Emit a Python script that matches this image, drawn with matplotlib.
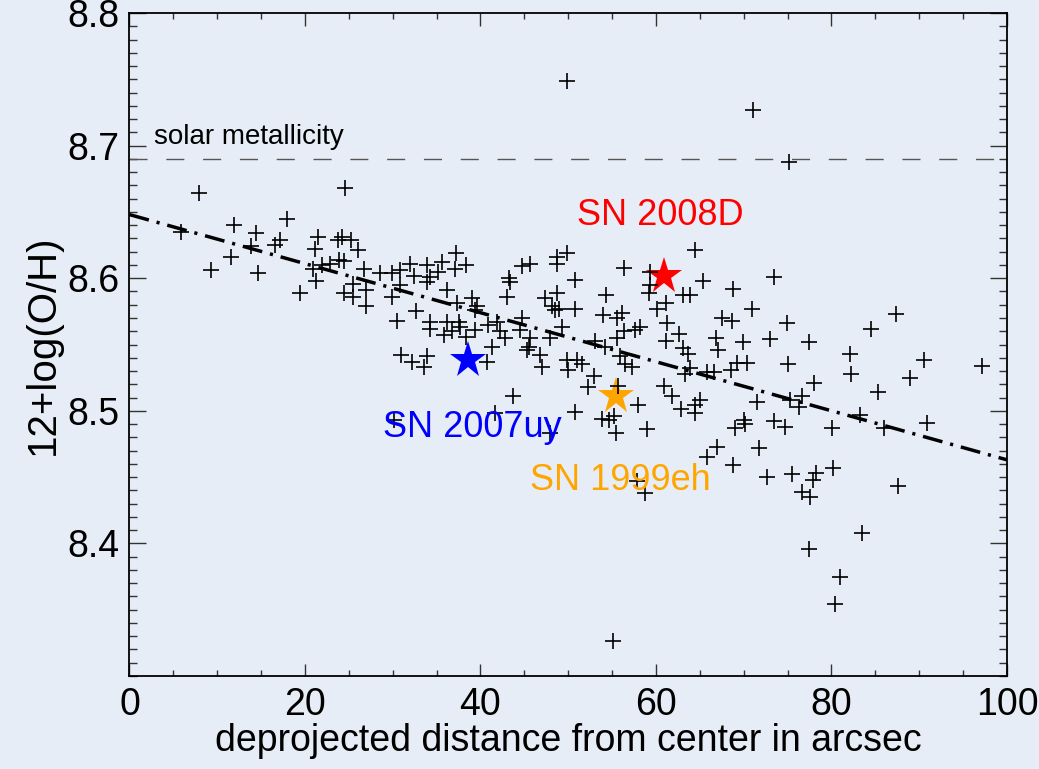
import numpy as np
import matplotlib
matplotlib.use('Agg')
import matplotlib.pyplot as plt

plt.rcParams['font.family'] = ['Liberation Sans', 'DejaVu Sans']

# HII region abundances (arcsec, 12+log(O/H))
x_pts = [
    7.9, 24.6, 5.9, 11.9, 14.4, 17.9, 13.9, 16.6, 17.2, 21.5, 21.1, 23.8, 24.2, 11.6,
    22.8, 23.9, 24.4,
    9.3, 14.6, 19.4, 21.3, 20.9, 21.9, 24.5,
    25.3, 26.1, 37.2, 48.7, 49.9,
    26.7, 25.5, 25.5, 27.0, 27.0, 28.6, 29.9, 30.8, 32.0, 32.4, 30.8, 29.9, 33.9, 34.3,
    33.9, 35.2, 35.6, 37.1, 38.4, 36.2, 32.7, 30.5, 34.3, 34.3, 36.2, 37.5, 37.3, 37.7,
    35.8, 36.7, 38.3, 39.0, 39.4, 39.6, 39.4, 41.3, 40.7, 40.9, 41.9, 42.2, 42.8, 43.0,
    43.2, 43.4, 44.7, 45.7, 44.7, 44.5, 45.7, 45.5, 45.3, 46.8, 47.0, 47.4, 48.7, 48.1,
    48.9, 48.5, 49.3, 47.9, 49.9, 50.0, 48.7, 31.0, 32.2, 33.9, 33.6, 43.7, 41.7, 30.1,
    47.9,
    50.8, 56.3, 59.3, 59.3, 59.2, 54.3, 50.8, 54.0, 55.6, 56.1, 61.1, 60.1, 63.1, 63.9,
    65.4, 68.8, 73.5, 70.9, 67.5, 68.7, 74.9, 61.3, 58.2, 57.6, 56.3, 55.6, 62.6, 61.1,
    66.8, 69.9, 73.0, 53.1, 54.2, 63.1, 63.7, 67.1, 55.9, 56.5, 57.3, 51.0, 51.6, 63.3,
    63.9, 65.8, 66.6, 68.5, 69.2, 70.4, 75.1, 52.9, 52.3, 55.7, 60.9, 61.8, 65.0, 64.5,
    58.0, 62.8, 64.5, 71.5, 50.8, 53.8, 54.6, 55.2, 55.4, 59.0, 69.0, 70.0, 70.2, 73.4,
    74.7, 67.0, 71.7, 65.8, 64.5,
    87.3, 84.5, 77.4, 82.1, 90.5, 97.2, 82.2, 89.0, 78.0, 85.3, 76.6, 76.3, 75.3, 83.3,
    80.1, 86.0, 90.9,
    68.8, 72.7, 75.5, 57.8, 58.8, 55.1, 78.2, 77.9, 80.2, 76.6, 77.5, 87.6, 83.5, 77.4,
    81.0, 80.4,
    49.9, 71.1, 75.2,
]
y_pts = [
    8.664, 8.668, 8.635, 8.640, 8.634, 8.645, 8.624, 8.625, 8.629, 8.631, 8.622, 8.629, 8.631, 8.616,
    8.611, 8.614, 8.613,
    8.606, 8.604, 8.589, 8.598, 8.607, 8.610, 8.589,
    8.629, 8.621, 8.619, 8.616, 8.619,
    8.607, 8.596, 8.586, 8.591, 8.579, 8.604, 8.604, 8.606, 8.611, 8.602, 8.595, 8.586, 8.610, 8.601,
    8.597, 8.605, 8.612, 8.607, 8.610, 8.591, 8.575, 8.568, 8.567, 8.562, 8.567, 8.567, 8.581, 8.563,
    8.557, 8.560, 8.556, 8.585, 8.576, 8.579, 8.561, 8.548, 8.537, 8.565, 8.567, 8.560, 8.555, 8.586,
    8.600, 8.597, 8.609, 8.611, 8.570, 8.561, 8.555, 8.548, 8.546, 8.542, 8.533, 8.585, 8.589, 8.579,
    8.577, 8.576, 8.563, 8.555, 8.538, 8.531, 8.611, 8.542, 8.537, 8.541, 8.533, 8.511, 8.498, 8.493,
    8.483,
    8.599, 8.608, 8.605, 8.595, 8.589, 8.587, 8.577, 8.572, 8.570, 8.574, 8.581, 8.577, 8.587, 8.587,
    8.598, 8.592, 8.601, 8.577, 8.570, 8.568, 8.566, 8.566, 8.563, 8.561, 8.560, 8.555, 8.558, 8.553,
    8.555, 8.552, 8.554, 8.553, 8.548, 8.547, 8.543, 8.546, 8.541, 8.535, 8.533, 8.538, 8.535, 8.528,
    8.532, 8.529, 8.529, 8.531, 8.536, 8.536, 8.535, 8.526, 8.518, 8.519, 8.519, 8.511, 8.508, 8.504,
    8.504, 8.501, 8.498, 8.507, 8.499, 8.494, 8.493, 8.496, 8.483, 8.486, 8.487, 8.493, 8.490, 8.492,
    8.488, 8.473, 8.472, 8.465, 8.621,
    8.573, 8.562, 8.552, 8.543, 8.538, 8.534, 8.528, 8.525, 8.521, 8.514, 8.511, 8.503, 8.508, 8.497,
    8.487, 8.487, 8.491,
    8.459, 8.450, 8.452, 8.447, 8.438, 8.326, 8.453, 8.448, 8.457, 8.439, 8.435, 8.443, 8.408, 8.396,
    8.375, 8.354,
    8.749, 8.727, 8.688,
]

# supernova sites
sn_names = ['SN 2008D', 'SN 2007uy', 'SN 1999eh']
sn_x = [60.9, 38.6, 55.4]
sn_y = [8.602, 8.538, 8.511]
sn_colors = ['red', 'blue', 'orange']
sn_label_x = [51.0, 28.9, 45.7]
sn_label_y = [8.640, 8.480, 8.440]

solar = 8.69
fit_intercept = 8.648
fit_slope = -0.00185

bg = '#e7edf6'
fig = plt.figure(figsize=(10.39, 7.69), dpi=100, facecolor=bg)
ax = fig.add_axes([0.1246, 0.121, 0.8446, 0.862])
ax.set_facecolor(bg)

ax.axhline(solar, color='#555555', lw=1.0, linestyle=(0, (13, 13.5)))
ax.text(2.8, 8.701, 'solar metallicity', fontsize=20, va='baseline', ha='left')

xx = np.array([0, 100])
ax.plot(xx, fit_intercept + fit_slope * xx, color='black', lw=2.5,
        linestyle=(0, (5.8, 2.3, 0.9, 2.3)))

for name, sx, sy, c, lx, ly in zip(sn_names, sn_x, sn_y, sn_colors, sn_label_x, sn_label_y):
    ax.plot(sx, sy, marker='*', color=c, markersize=28, mew=0)
    ax.text(lx, ly, name, color=c, fontsize=26, va='baseline', ha='left')

ax.plot(x_pts, y_pts, '+', color='black', markersize=11, mew=1.2)

ax.set_xlim(0, 100)
ax.set_ylim(8.3, 8.8)
ax.set_xticks([0, 20, 40, 60, 80, 100])
ax.set_xticks(np.arange(0, 101, 5), minor=True)
ax.set_yticks([8.4, 8.5, 8.6, 8.7, 8.8])
ax.set_yticks(np.arange(8.3, 8.801, 0.01), minor=True)
ax.tick_params(axis='both', which='both', direction='in', top=True, right=True,
               labelsize=27, width=1.0, color='#333333')
ax.tick_params(axis='x', which='major', length=9, pad=8)
ax.tick_params(axis='x', which='minor', length=4)
ax.tick_params(axis='y', which='major', length=12, pad=7)
ax.tick_params(axis='y', which='minor', length=6)
for s in ax.spines.values():
    s.set_linewidth(1.3)

ax.set_xlabel('deprojected distance from center in arcsec', fontsize=27, labelpad=0)
ax.set_ylabel('12+log(O/H)', fontsize=29, labelpad=4)

fig.savefig('out.png', dpi=100, facecolor=bg)
